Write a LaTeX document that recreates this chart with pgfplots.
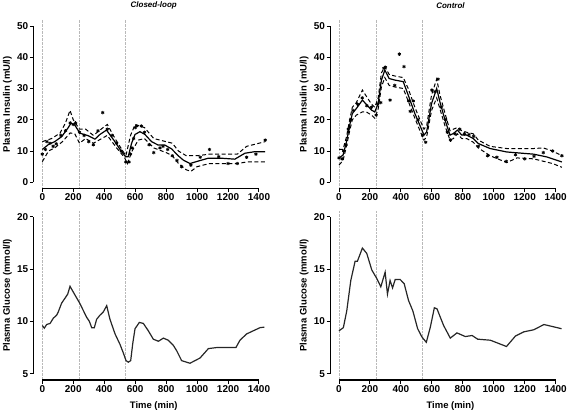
\documentclass[border=0pt]{standalone}
\usepackage{pgfplots}
\pgfplotsset{compat=1.18}
\usepackage{fontspec}
\setmainfont{Liberation Sans}

\pgfplotstableread{
x y
0 10.5
40 12.1
80 13
125 14.6
165 17.3
185 18.9
210 18.3
243 15.7
297 14.9
340 13.8
372 15.3
415 16.7
469 13
512 9.8
538 8.2
555 8.2
577 12.5
599 15.3
631 16.2
663 15.3
706 13
749 11.9
792 11.9
835 10.7
878 8.5
911 7.1
954 6
1008 6.8
1072 7.7
1158 7.7
1244 7.4
1309 9.3
1374 9.8
1440 9.8
}\tlmean
\pgfplotstableread{
x y
0 13
30 13.5
60 14
114 15.7
150 19
179 23
200 20
240 17
280 17
330 15
380 17
420 18.5
470 14
520 10
540 8.5
570 15
600 18.5
660 17.5
720 14
800 13
840 12.5
880 10
930 8.5
1000 8.5
1080 9
1260 9
1320 11.5
1400 12.5
1440 13
}\tlup
\pgfplotstableread{
x y
0 6.6
40 10
80 11
130 13
180 15.8
210 15.5
240 12.5
280 14
330 12.5
420 15
480 11
530 8
550 6
580 10
620 13.5
660 14
720 11
800 9.5
840 8.5
880 6
930 4
960 3.5
1000 5
1080 6
1260 6
1320 6.5
1440 6.5
}\tllo
\pgfplotstableread{
x y
0 9
20 10.5
30 13
50 12.5
70 11.5
90 12.3
120 15
150 16.5
180 19
200 18.5
215 19
240 16
270 15
300 13
330 12
360 16.5
390 22.3
420 17
450 15
480 12.5
510 10
540 6.5
560 6.5
570 9
580 11
590 14
600 17.5
610 18
640 18
660 16
690 12
720 9.5
760 11
780 11.5
810 10.5
840 8.5
870 7
900 5
960 5.5
1020 8
1080 10.5
1140 8.2
1200 6
1260 6
1320 8
1380 9
1440 13.5
}\tlpts

\pgfplotstableread{
x y
0 7.8
26 8.7
48 12.9
69 18.3
86 22
112 23.6
151 26.3
177 24.9
210 23.1
231 22.5
253 25.2
274 32.7
296 35.9
324 33.2
361 32.7
415 32.2
447 27.9
490 22
527 17.7
549 15.1
566 16.1
598 25.2
631 30
652 25.7
685 19.9
717 15.1
739 15.6
765 16.7
793 15.1
825 15.1
868 14
900 12.4
976 10.8
1084 9.7
1257 9
1344 8.1
1440 6.5
}\trmean
\pgfplotstableread{
x y
0 10.5
26 10.5
48 14.5
69 20
86 24
112 25.5
151 29.5
177 27.5
210 25
231 24
253 27
274 35
296 37
324 34.5
361 34
415 33.5
447 30
490 24
527 19.5
549 17
566 18
598 28
631 33
652 28
685 22
717 16.5
739 17
765 17.5
793 16.5
825 16
868 15.5
900 13.5
976 11.5
1084 10.8
1257 10.8
1320 11
1380 10
1440 8.5
}\trup
\pgfplotstableread{
x y
0 5.5
26 7
48 11.5
69 16.5
86 20
112 21.5
151 22.5
177 22.5
210 21.5
231 20.5
253 23.5
274 30.5
296 33.5
324 31
361 30.5
415 30
447 26
490 20.5
527 16
549 13.5
566 14.5
598 23
631 27
652 23.5
685 18
717 13.5
739 14
765 15.5
793 14
825 14
868 12.8
900 11
976 8.5
1084 6.3
1150 7.8
1257 7.5
1380 6
1440 4.8
}\trlo
\pgfplotstableread{
x y
0 7.8
20 7.5
30 10
45 12
60 17
75 20
90 23
120 25
150 27
180 24.5
210 24
240 21.5
250 25
270 25.5
290 36.5
300 36.8
330 26.3
360 31
390 41
420 37
450 26
460 22.7
480 26
510 20
540 15
560 12.8
600 29.5
620 29
640 33
660 24
690 20
700 16
720 13.5
750 15.5
780 17
810 15.5
840 15.3
870 14.7
900 11.5
960 8.5
1020 8
1080 6.7
1140 8.8
1200 7.5
1260 8.3
1320 9.5
1380 10
1440 8.5
}\trpts

\pgfplotstableread{
x y
0 9.6
13 9.35
28 9.7
50 9.8
71 10.3
93 10.6
103 10.9
125 11.75
146 12.2
164 12.6
179 13.35
200 12.8
243 11.7
286 10.4
304 10.0
319 9.4
336 9.4
351 10.2
373 10.6
394 10.9
416 11.5
437 10.2
470 8.8
502 7.8
523 7.0
541 6.25
556 6.1
571 6.25
584 7.85
599 9.3
627 9.9
653 9.8
685 9.1
717 8.3
750 8.1
782 8.4
814 8.2
847 7.7
868 7.2
900 6.25
954 6.0
1019 6.5
1073 7.4
1127 7.5
1191 7.5
1251 7.5
1277 8.2
1320 8.8
1363 9.1
1407 9.4
1435 9.45
}\blg
\pgfplotstableread{
x y
0 9.1
28 9.4
50 11
76 13.9
104 15.75
119 15.75
151 17.0
179 16.5
212 14.9
244 14.1
270 13.3
298 14.7
313 12.6
330 13.9
346 13.2
363 14.0
395 14.0
421 13.6
449 12.0
477 11.0
508 9.3
536 8.5
564 8.0
590 9.45
616 11.3
633 11.2
676 9.6
719 8.4
762 8.9
816 8.55
860 8.65
896 8.3
978 8.2
1082 7.6
1140 8.6
1194 9.0
1259 9.2
1324 9.7
1438 9.3
}\brg

\pgfplotsset{
  myax/.style={
    scale only axis, width=240.7bp,
    xmin=-57.6, xmax=1497.6,
    axis lines*=left, axis line style={draw=none},
    tick align=outside, major tick length=3.5bp,
    tick style={black, line width=1bp},
    xtick={0,200,...,1400},
    ticklabel style={font=\fontsize{10}{12}\selectfont\bfseries, inner sep=1.5bp},
    /pgf/number format/assume math mode=true,
    /pgf/number format/1000 sep={},
    clip=false,
    extra x ticks={0,240,540},
    extra x tick style={grid=major, major grid style={gray!55, densely dotted, line width=0.9bp}, major tick length=0pt, xticklabel={}},
    ylabel style={font=\fontsize{9.5}{11}\selectfont\bfseries, at={(rel axis cs:0,0.5)}, anchor=center, yshift=26bp},
    xlabel style={font=\fontsize{9.5}{11}\selectfont\bfseries, at={(rel axis cs:0.5,0)}, anchor=center, yshift=-26bp},
    title style={font=\fontsize{8}{10}\selectfont\bfseries\itshape, at={(rel axis cs:0.5,1)}, anchor=center, yshift=8.5bp},
  },
  topax/.style={myax, height=168.8bp, ymin=-2, ymax=52, ytick={0,10,...,50}, ylabel={Plasma Insulin (mU/l)}},
  botax/.style={myax, height=169.6bp, ymin=4.4, ymax=20.6, ytick={5,10,15,20}, ylabel={Plasma Glucose (mmol/l)}, xlabel={Time (min)}},
  meanl/.style={black, line width=1.2bp, no marks},
  cil/.style={black, line width=1bp, dash pattern=on 4bp off 2.5bp, no marks},
  ptl/.style={only marks, mark=asterisk, mark size=1.7bp, black, mark options={line width=0.8bp}},
  glul/.style={black!85, line width=1.2bp, no marks},
}

\begin{document}
\begin{tikzpicture}
\useasboundingbox (0,0) rectangle (567bp,413bp);
% top left
\begin{axis}[topax, at={(33.4bp,224.45bp)}, anchor=south west, title={Closed-loop}]
\addplot[cil] table {\tlup};
\addplot[cil] table {\tllo};
\addplot[meanl] table {\tlmean};
\addplot[ptl] table {\tlpts};
\draw[black, line width=1.1bp] (axis cs:0,-2) -- (axis cs:1400,-2);
\draw[black, line width=1.1bp] (axis cs:-57.6,0) -- (axis cs:-57.6,50);
\end{axis}
% top right
\begin{axis}[topax, at={(330.1bp,224.45bp)}, anchor=south west, title={Control}]
\addplot[cil] table {\trup};
\addplot[cil] table {\trlo};
\addplot[meanl] table {\trmean};
\addplot[ptl] table {\trpts};
\draw[black, line width=1.1bp] (axis cs:0,-2) -- (axis cs:1400,-2);
\draw[black, line width=1.1bp] (axis cs:-57.6,0) -- (axis cs:-57.6,50);
\end{axis}
% bottom left
\begin{axis}[botax, at={(33.4bp,33bp)}, anchor=south west]
\addplot[glul] table {\blg};
\draw[black, line width=1.1bp] (axis cs:0,4.4) -- (axis cs:1400,4.4);
\draw[black, line width=1.1bp] (axis cs:-57.6,5) -- (axis cs:-57.6,20);
\end{axis}
% bottom right
\begin{axis}[botax, at={(330.1bp,33bp)}, anchor=south west]
\addplot[glul] table {\brg};
\draw[black, line width=1.1bp] (axis cs:0,4.4) -- (axis cs:1400,4.4);
\draw[black, line width=1.1bp] (axis cs:-57.6,5) -- (axis cs:-57.6,20);
\end{axis}
\end{tikzpicture}
\end{document}
